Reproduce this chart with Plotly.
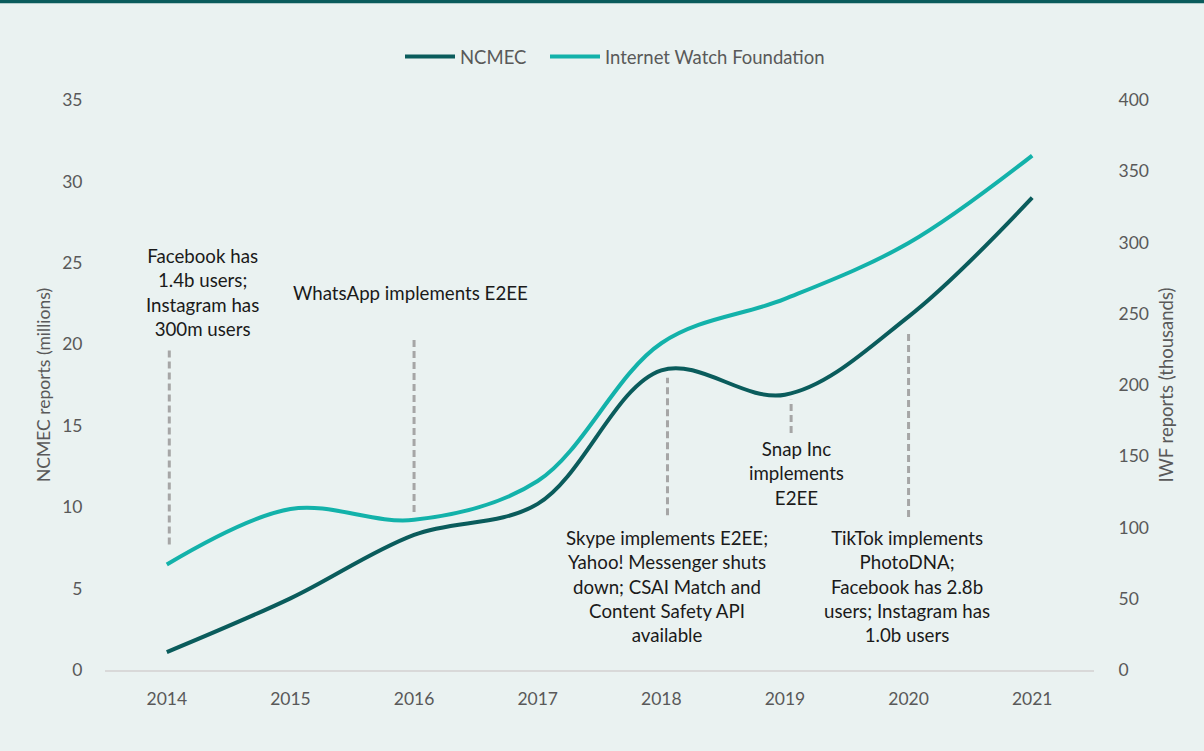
import plotly.graph_objects as go

years = ["2014", "2015", "2016", "2017", "2018", "2019", "2020", "2021"]
ncmec_millions = [1.1, 4.4, 8.3, 10.2, 18.4, 16.9, 21.7, 29.0]
iwf_thousands = [74.1, 113.0, 105.4, 132.6, 229.3, 260.4, 299.6, 361.0]

events = [
    {"x": 0.02, "y0": 7.7, "y1": 19.8, "tx": 0.29, "ty": 23.15,
     "text": "Facebook has<br>1.4b users;<br>Instagram has<br>300m users"},
    {"x": 2.0, "y0": 9.7, "y1": 20.45, "tx": 1.97, "ty": 23.15,
     "text": "WhatsApp implements E2EE"},
    {"x": 4.05, "y0": 9.5, "y1": 17.95, "tx": 4.05, "ty": 5.1,
     "text": "Skype implements E2EE;<br>Yahoo! Messenger shuts<br>down; CSAI Match and<br>Content Safety API<br>available"},
    {"x": 5.05, "y0": 14.55, "y1": 16.6, "tx": 5.09, "ty": 12.05,
     "text": "Snap Inc<br>implements<br>E2EE"},
    {"x": 6.0, "y0": 9.4, "y1": 20.7, "tx": 5.99, "ty": 5.1,
     "text": "TikTok implements<br>PhotoDNA;<br>Facebook has 2.8b<br>users; Instagram has<br>1.0b users"},
]

dark = "#0a5c5c"
light = "#13b2aa"
grey = "#595959"
font_family = "Lato, 'Open Sans', sans-serif"

W, H = 1204, 751
ML, MR, MT, MB = 105, 110, 100, 81
PW, PH = W - ML - MR, H - MT - MB

fig = go.Figure()
fig.add_trace(go.Scatter(x=years, y=ncmec_millions, name="NCMEC", mode="lines",
                         line=dict(color=dark, width=4, shape="spline", smoothing=1.0),
                         yaxis="y", legend="legend"))
fig.add_trace(go.Scatter(x=years, y=iwf_thousands, name="Internet Watch Foundation", mode="lines",
                         line=dict(color=light, width=4, shape="spline", smoothing=1.0),
                         yaxis="y2", legend="legend2"))

top_y = 1 + (MT - 1.5) / PH
shapes = [dict(type="line", xref="paper", yref="paper",
               x0=-ML / PW, x1=1 + MR / PW, y0=top_y, y1=top_y,
               line=dict(color="#0a5c5c", width=3.5))]
annotations = []
for e in events:
    shapes.append(dict(type="line", xref="x", yref="y", x0=e["x"], x1=e["x"],
                       y0=e["y0"], y1=e["y1"],
                       line=dict(color="#a6a6a6", width=3, dash="7px,4px")))
    annotations.append(dict(x=e["tx"], y=e["ty"], xref="x", yref="y", text=e["text"],
                            showarrow=False, align="center", yanchor="middle",
                            font=dict(family=font_family, size=18.7, color="#1a1a1a")))

legend_common = dict(orientation="h", xref="paper", xanchor="left",
                     y=1 - 57 / H, yref="container", yanchor="middle",
                     itemwidth=50, font=dict(size=18.5, color=grey),
                     bgcolor="rgba(0,0,0,0)")

fig.update_layout(
    width=W, height=H,
    paper_bgcolor="#eaf2f1", plot_bgcolor="#eaf2f1",
    margin=dict(l=ML, r=MR, t=MT, b=MB, autoexpand=False),
    font=dict(family=font_family, size=17.5, color=grey),
    showlegend=True,
    legend=dict(x=(400 - ML) / PW, **legend_common),
    legend2=dict(x=(545 - ML) / PW, **legend_common),
    xaxis=dict(type="category", range=[-0.5, 7.5], showgrid=False, zeroline=False,
               showline=True, linecolor="#d9d9d9", linewidth=1.5, ticks="outside",
               ticklen=12, tickcolor="rgba(0,0,0,0)", tickfont=dict(size=17.5, color=grey)),
    yaxis=dict(range=[0, 35], dtick=5, showgrid=False, zeroline=False, showline=False,
               ticks="outside", ticklen=18, tickcolor="rgba(0,0,0,0)",
               tickfont=dict(size=17.5, color=grey),
               title=dict(text="NCMEC reports (millions)", font=dict(size=17.5, color=grey),
                          standoff=7)),
    yaxis2=dict(range=[0, 400], dtick=50, overlaying="y", side="right", showgrid=False,
                zeroline=False, showline=False, ticks="outside", ticklen=20,
                tickcolor="rgba(0,0,0,0)", tickfont=dict(size=17.5, color=grey),
                title=dict(text="IWF reports (thousands)", font=dict(size=18.5, color=grey),
                           standoff=12)),
    shapes=shapes,
    annotations=annotations,
)

fig.write_html("out.html", config={"displayModeBar": False},
               post_script="document.body.style.margin='0';")
